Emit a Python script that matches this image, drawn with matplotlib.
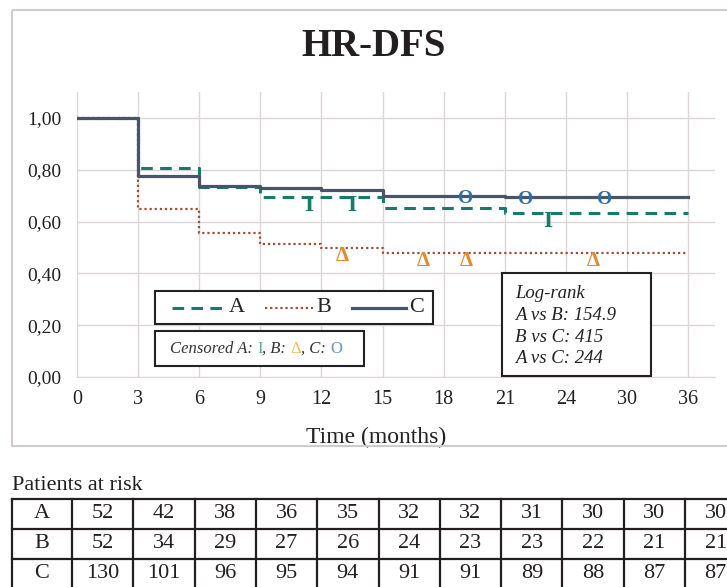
import numpy as np
import matplotlib
matplotlib.use('Agg')
import matplotlib.pyplot as plt
from matplotlib.lines import Line2D
from matplotlib.patches import Rectangle
from matplotlib.ticker import FuncFormatter

plt.rcParams['font.family'] = ['Liberation Serif', 'DejaVu Serif']

# x axis in the original is categorical: 0..24 by 3, then 30 and 36
tick_months = [0, 3, 6, 9, 12, 15, 18, 21, 24, 30, 36]

# survival curves, value holds from step_times[i] to step_times[i+1]
step_times = [0, 3, 6, 9, 12, 15, 21, 36]
surv_a = [1.00, 0.807, 0.732, 0.693, 0.693, 0.652, 0.633, 0.633]
surv_b = [1.00, 0.650, 0.557, 0.515, 0.499, 0.480, 0.480, 0.480]
surv_c = [1.00, 0.776, 0.739, 0.731, 0.722, 0.699, 0.695, 0.695]

# censored observations (months)
cens_a = [11.4, 13.5, 23.1]
cens_b = [13.0, 17.0, 19.1, 26.7]
cens_c = [19.1, 22.0, 27.8]

groups = ['A', 'B', 'C']
at_risk_a = [52, 42, 38, 36, 35, 32, 32, 31, 30, 30, 30]
at_risk_b = [52, 34, 29, 27, 26, 24, 23, 23, 22, 21, 21]
at_risk_c = [130, 101, 96, 95, 94, 91, 91, 89, 88, 87, 87]

logrank_pairs = ['A vs B', 'B vs C', 'A vs C']
logrank_vals = ['154.9', '415', '244']

teal = '#1a7a6a'
brown = '#9b4f3a'
slate = '#4a5468'
orange = '#e38b2c'
blue = '#2f6fa3'
grid_col = '#ddd6d6'

style_a = dict(color=teal, lw=2.2, linestyle=(0, (3.8, 2.4)))
style_b = dict(color=brown, lw=1.6, linestyle=(0, (1, 1.3)))
style_c = dict(color=slate, lw=2.3, linestyle='-')

W, H = 727, 587


def pos(months):
    # month -> category position on the x axis
    return np.interp(months, tick_months, np.arange(len(tick_months)))


def surv_at(times, surv, t):
    idx = np.searchsorted(times, t, side='right') - 1
    return np.array(surv)[idx]


fig = plt.figure(figsize=(W / 100, H / 100), dpi=100)
ax = fig.add_axes([77 / W, 1 - 377 / H, 638 / W, 285 / H])

x_steps = pos(step_times)
ax.step(x_steps, surv_b, where='post', zorder=3, **style_b)
ax.step(x_steps, surv_a, where='post', zorder=4, **style_a)
ax.step(x_steps, surv_c, where='post', zorder=5, **style_c)

for t in cens_a:
    ax.annotate('I', (pos(t), surv_at(step_times, surv_a, t)), xytext=(0, -10),
                textcoords='offset points', ha='center', va='baseline',
                color=teal, fontsize=17, fontweight='bold', zorder=6)
for t in cens_b:
    ax.annotate('Δ', (pos(t), surv_at(step_times, surv_b, t)), xytext=(0, -9.5),
                textcoords='offset points', ha='center', va='baseline',
                color=orange, fontsize=15, fontweight='bold', zorder=6)
for t in cens_c:
    ax.annotate('O', (pos(t), surv_at(step_times, surv_c, t)), xytext=(0, -5),
                textcoords='offset points', ha='center', va='baseline',
                color=blue, fontsize=14, fontweight='bold', zorder=6)

ax.set_xlim(0, 10.44)
ax.set_ylim(0, 1.1)
ax.set_xticks(np.arange(len(tick_months)))
ax.set_xticklabels([str(m) for m in tick_months])
ax.set_yticks(np.arange(0, 1.01, 0.2))
ax.yaxis.set_major_formatter(FuncFormatter(lambda v, p: f'{v:.2f}'.replace('.', ',')))
ax.tick_params(length=0, colors='#222222')
ax.tick_params(axis='y', pad=11, labelsize=14)
ax.tick_params(axis='x', pad=9, labelsize=14.5)
ax.grid(True, color=grid_col, lw=1)
ax.set_axisbelow(True)
for s in ['top', 'right', 'left']:
    ax.spines[s].set_visible(False)
ax.spines['bottom'].set_color(grid_col)
ax.set_xlabel('Time (months)', fontsize=17, color='#222222')
ax.xaxis.set_label_coords((376 - 77) / 638, -(437 - 377) / 285)
ax.xaxis.label.set_va('center')

# overlay in pixel coordinates for boxes, title and table
ov = fig.add_axes([0, 0, 1, 1], zorder=10)
ov.set_xlim(0, W)
ov.set_ylim(H, 0)
ov.axis('off')

ov.add_patch(Rectangle((12, 10), 740, 436, fill=False, ec='#d3cbcb', lw=1.5))
ov.text(374, 46, 'HR-DFS', ha='center', va='center', fontsize=28,
        fontweight='bold', color='#231f20')

# legend box
ov.add_patch(Rectangle((155, 291), 278, 33, fc='white', ec='#222222', lw=1.5))
leg_items = [(172, 226, style_a), (265, 313, style_b), (352, 406, style_c)]
for (x0, x1, st), g in zip(leg_items, groups):
    ov.add_line(Line2D([x0, x1], [308, 308], **st))
    ov.text(x1 + 3, 308, g, ha='left', va='center', fontsize=16, color='#222222')

# censored box
ov.add_patch(Rectangle((155, 331), 209, 35, fc='white', ec='#222222', lw=1.5))
pieces = [('Censored A: ', '#333333', 'italic'), ('I', '#5fa89a', 'normal'),
          (', B: ', '#333333', 'italic'), ('Δ', '#f0b860', 'normal'),
          (', C: ', '#333333', 'italic'), ('O', '#6a94c4', 'normal')]
prev = ov.text(170, 349, pieces[0][0], ha='left', va='center', fontsize=12,
               color=pieces[0][1], style=pieces[0][2])
for txt, col, st in pieces[1:]:
    prev = ov.annotate(txt, xy=(1, 0), xycoords=prev, ha='left', va='bottom',
                       fontsize=12, color=col, style=st)

# log-rank box
ov.add_patch(Rectangle((502, 273), 149, 103, fc='white', ec='#222222', lw=1.5))
lr_lines = ['Log-rank'] + [f'{p}: {v}' for p, v in zip(logrank_pairs, logrank_vals)]
for i, line in enumerate(lr_lines):
    ov.text(515, 294 + i * 21.5, line, ha='left', va='center', fontsize=13.5,
            style='italic', color='#222222')

# patients at risk table
ov.text(12, 485, 'Patients at risk', ha='left', va='center', fontsize=16, color='#231f20')
rows = [at_risk_a, at_risk_b, at_risk_c]
n_cols = len(at_risk_a)
col_w = 61.3
edges = [12, 72] + [72 + col_w * (k + 1) for k in range(n_cols)]
row_top, row_h = 499, 30
tcol = '#231f20'
for r in range(len(rows) + 1):
    y = row_top + r * row_h
    ov.plot([edges[0], edges[-1]], [y, y], color=tcol, lw=1.6, clip_on=False)
for e in edges:
    ov.plot([e, e], [row_top, row_top + len(rows) * row_h], color=tcol, lw=1.6, clip_on=False)
for r, (g, vals) in enumerate(zip(groups, rows)):
    yc = row_top + r * row_h + row_h / 2
    ov.text((edges[0] + edges[1]) / 2, yc, g, ha='center', va='center',
            fontsize=16, color=tcol)
    for k, v in enumerate(vals):
        ov.text((edges[k + 1] + edges[k + 2]) / 2, yc, str(v), ha='center',
                va='center', fontsize=16, color=tcol)

fig.savefig('out.png', dpi=100)
